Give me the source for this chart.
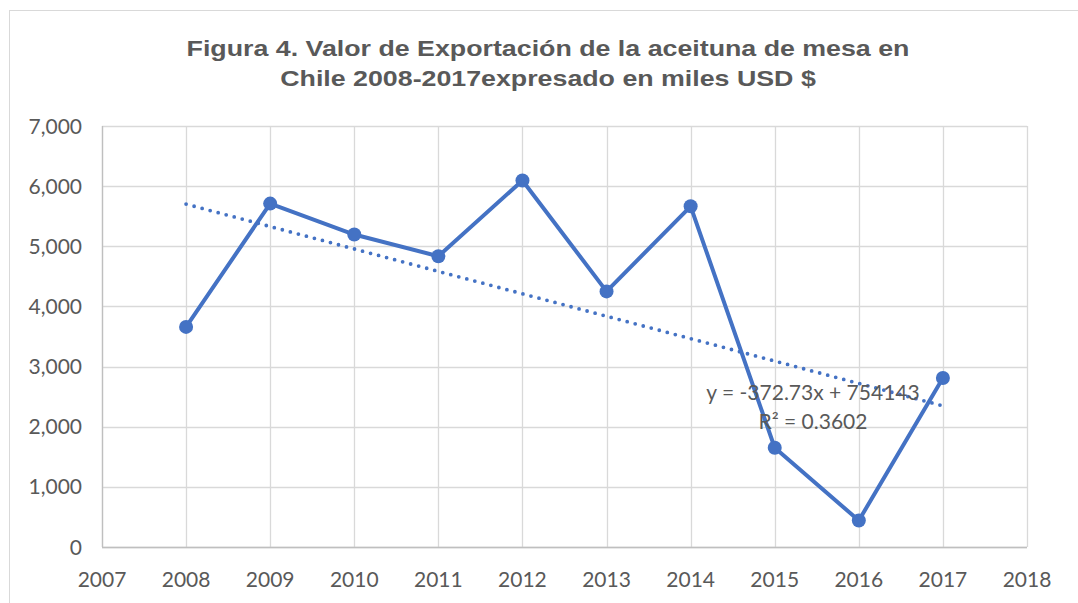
<!DOCTYPE html>
<html>
<head>
<meta charset="utf-8">
<script src="https://cdn.jsdelivr.net/npm/d3@7"></script>
<style>
  body { margin: 0; background: #fff; }
  svg { display: block; }
</style>
</head>
<body>
<div id="chart"></div>
<script>
const years = [2008, 2009, 2010, 2011, 2012, 2013, 2014, 2015, 2016, 2017];
const values = [3660, 5710, 5195, 4835, 6095, 4250, 5665, 1650, 440, 2810];
const xTicks = [2007, 2008, 2009, 2010, 2011, 2012, 2013, 2014, 2015, 2016, 2017, 2018];
const yTicks = [0, 1000, 2000, 3000, 4000, 5000, 6000, 7000];
const titleLines = [
  "Figura 4. Valor de Exportación de la aceituna de mesa en",
  "Chile 2008-2017expresado en miles USD $"
];
const trend = { slope: -372.73, intercept: 754143, r2: 0.3602 };
const trendLabel = ["y = -372.73x + 754143", "R² = 0.3602"];

const width = 1078,
  height = 603,
  margin = { top: 126, right: 51, bottom: 56, left: 102 },
  blue = "#4472C4",
  textColor = "#595959",
  labelFont = "Lato, 'Open Sans', sans-serif";

const svg = d3
  .select("#chart")
  .append("svg")
  .attr("width", width)
  .attr("height", height);

// chart area border
svg
  .append("rect")
  .attr("x", 9.5)
  .attr("y", 10.5)
  .attr("width", width + 20)
  .attr("height", height + 20)
  .attr("fill", "#fff")
  .attr("stroke", "#d9d9d9");

const x = d3
  .scaleLinear()
  .domain([2007, 2018])
  .range([margin.left, width - margin.right]);
const y = d3
  .scaleLinear()
  .domain([0, 7000])
  .range([height - margin.bottom, margin.top]);

// title (stretched horizontally like the original rendering)
svg
  .append("g")
  .attr("transform", "translate(548,0) scale(1.19,1)")
  .selectAll("text")
  .data(titleLines)
  .enter()
  .append("text")
  .attr("x", 0)
  .attr("y", (d, i) => 56 + i * 30)
  .attr("text-anchor", "middle")
  .style("font-family", "'Liberation Sans', Arial, sans-serif")
  .style("font-weight", "bold")
  .style("font-size", "22.5px")
  .style("fill", textColor)
  .text(d => d);

// gridlines
const grid = svg.append("g").attr("class", "grid");
grid
  .selectAll("line.h")
  .data(yTicks)
  .enter()
  .append("line")
  .attr("x1", x(2007))
  .attr("x2", x(2018))
  .attr("y1", d => Math.round(y(d)) + 0.5)
  .attr("y2", d => Math.round(y(d)) + 0.5)
  .attr("stroke", "#d9d9d9")
  .attr("stroke-width", 1.3);
grid
  .selectAll("line.v")
  .data(xTicks)
  .enter()
  .append("line")
  .attr("y1", y(0))
  .attr("y2", y(7000))
  .attr("x1", d => Math.round(x(d)) + 0.5)
  .attr("x2", d => Math.round(x(d)) + 0.5)
  .attr("stroke", "#d9d9d9")
  .attr("stroke-width", 1.3);

// axis lines
svg
  .append("line")
  .attr("x1", x(2007))
  .attr("x2", x(2018))
  .attr("y1", Math.round(y(0)) + 0.5)
  .attr("y2", Math.round(y(0)) + 0.5)
  .attr("stroke", "#bfbfbf")
  .attr("stroke-width", 1.3);
svg
  .append("line")
  .attr("x1", Math.round(x(2007)) + 0.5)
  .attr("x2", Math.round(x(2007)) + 0.5)
  .attr("y1", y(0))
  .attr("y2", y(7000))
  .attr("stroke", "#bfbfbf")
  .attr("stroke-width", 1.3);

// axes labels
const fmt = d3.format(",");
svg
  .append("g")
  .selectAll("text")
  .data(yTicks)
  .enter()
  .append("text")
  .attr("x", 82)
  .attr("y", d => y(d))
  .attr("dy", "0.36em")
  .attr("text-anchor", "end")
  .style("font-family", labelFont)
  .style("font-size", "21px")
  .style("fill", textColor)
  .text(d => fmt(d));

svg
  .append("g")
  .selectAll("text")
  .data(xTicks)
  .enter()
  .append("text")
  .attr("x", d => x(d))
  .attr("y", 587)
  .attr("text-anchor", "middle")
  .style("font-family", labelFont)
  .style("font-size", "21px")
  .style("fill", textColor)
  .text(d => d);

// series line
const line = d3
  .line()
  .x((d, i) => x(years[i]))
  .y(d => y(d));

svg
  .append("path")
  .datum(values)
  .attr("d", line)
  .attr("fill", "none")
  .attr("stroke", blue)
  .attr("stroke-width", 4)
  .attr("stroke-linejoin", "round");

svg
  .append("g")
  .selectAll("circle")
  .data(values)
  .enter()
  .append("circle")
  .attr("cx", (d, i) => x(years[i]))
  .attr("cy", d => y(d))
  .attr("r", 7)
  .attr("fill", blue);

// linear trendline
const tx = [years[0], years[years.length - 1]];
svg
  .append("path")
  .datum(tx)
  .attr(
    "d",
    d3
      .line()
      .x(d => x(d))
      .y(d => y(trend.slope * d + trend.intercept))
  )
  .attr("fill", "none")
  .attr("stroke", blue)
  .attr("stroke-width", 3.8)
  .attr("stroke-linecap", "round")
  .attr("stroke-dasharray", "0 8.3");

// trendline label
svg
  .append("g")
  .selectAll("text")
  .data(trendLabel)
  .enter()
  .append("text")
  .attr("x", 813)
  .attr("y", (d, i) => 400 + i * 29)
  .attr("text-anchor", "middle")
  .style("font-family", labelFont)
  .style("font-size", "21px")
  .style("fill", textColor)
  .text(d => d);
</script>
</body>
</html>
